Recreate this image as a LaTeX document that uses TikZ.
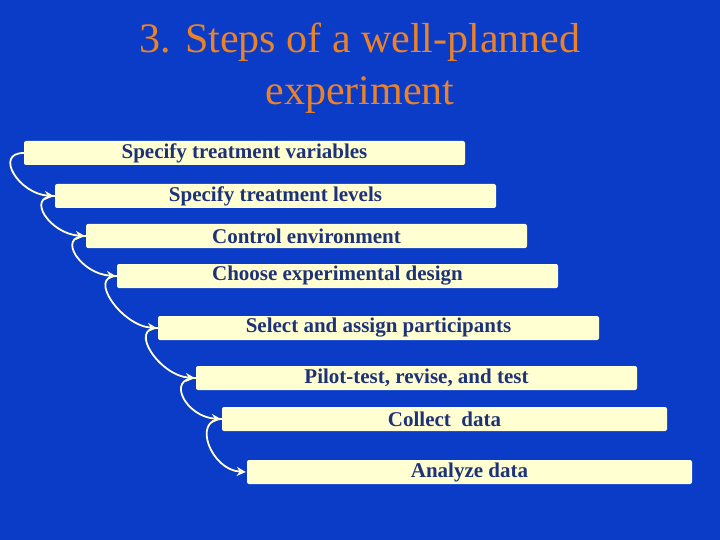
\documentclass[tikz,border=0pt]{standalone}
\usepackage{fontspec}
\setmainfont{Liberation Serif}
\usetikzlibrary{arrows.meta}
\begin{document}
\begin{tikzpicture}[x=1pt,y=-1pt,
 box/.style={draw=none,fill=boxfill,rounded corners=2pt,minimum width=441pt,minimum height=24pt,inner sep=0pt,font=\fontsize{21}{24}\selectfont\bfseries,text=txtblue},
 arr/.style={draw=boxfill,line width=1.8pt,-{Stealth[length=9pt,width=9pt]}}]
\definecolor{bg}{RGB}{10,60,200}
\definecolor{boxfill}{RGB}{255,255,210}
\definecolor{txtblue}{RGB}{30,50,120}
\definecolor{ttl}{RGB}{235,130,40}
\fill[bg] (0,0) rectangle (720,540);
\useasboundingbox (0,0) rectangle (720,540);
\node[text=ttl,font=\fontsize{42}{52}\selectfont,align=center] (t) at (360,68) {3. Steps of a well-planned\\experiment};
\node[box] (b1) at (244.5,153) {\raisebox{-1pt}{Specify treatment variables}};
\node[box] (b2) at (275.5,196) {\raisebox{-1pt}{Specify treatment levels}};
\node[box] (b3) at (306.5,236) {\raisebox{-1pt}{Control environment}};
\node[box] (b4) at (337.5,276) {\raisebox{-1pt}{Choose experimental design}};
\node[box] (b5) at (378.5,328) {\raisebox{-1pt}{Select and assign participants}};
\node[box] (b6) at (416.5,378) {\raisebox{-1pt}{Pilot-test, revise, and test}};
\node[box,minimum width=445pt] (b7) at (444.5,419) {\raisebox{-1pt}{Collect\ \ data}};
\node[box,minimum width=445pt] (b8) at (469.5,472) {\raisebox{-1pt}{Analyze data}};
\foreach \a/\b in {b1/b2,b2/b3,b3/b4,b4/b5,b5/b6,b6/b7,b7/b8}{
 \draw[arr] (\a.west) .. controls +(-30,0) and +(-35,-2) .. ([xshift=-1pt]\b.west);
}
\end{tikzpicture}
\end{document}
